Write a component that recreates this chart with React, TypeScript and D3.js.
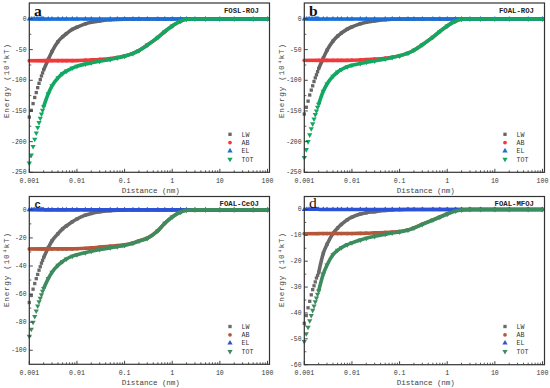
import React from 'react';
import * as d3 from 'd3';

// ---------- data ----------
const DISTANCE = [0.001, 0.0011, 0.0012, 0.0013, 0.0014, 0.0015, 0.0016, 0.0017, 0.0018, 0.0019, 0.002,
  0.0025, 0.003, 0.004, 0.005, 0.006, 0.008, 0.01, 0.015, 0.02, 0.03, 0.05, 0.07,
  0.1, 0.15, 0.2, 0.3, 0.5, 0.7, 1, 1.5, 2, 3, 5, 10, 20, 50, 100];

const LW_A = [-160, -149, -138, -128, -120, -112, -105, -99, -93, -88, -83,
  -66, -53, -37, -29, -24, -17, -13.5, -8, -5.5, -3.2, -1.4, -0.7,
  -0.3, -0.1, -0.05, 0, 0, 0, 0, 0, 0, 0, 0, 0, 0, 0, 0];
const AB_A = [-68, -68, -68, -68, -68, -68, -68, -68, -68, -68, -68,
  -68, -68, -68, -68, -68, -68, -67.8, -67.3, -66.8, -66, -64.5, -62.8,
  -60.3, -56, -51.5, -42.5, -30, -20.5, -11.5, -3.5, -0.6, 0, 0, 0, 0, 0, 0];
const EL_A = [0, 0, 0, 0, 0, 0, 0, 0, 0, 0, 0, 0, 0, 0, 0, 0, 0, 0, 0, 0, 0, 0, 0,
  0, 0, 0, 0, 0, 0, 0, 0, 0, 0, 0, 0, 0, 0, 0];
const TOT_A = [-235, -222, -208, -196, -186, -177, -169, -162, -155, -149, -143,
  -122, -109, -96, -89, -85, -80, -77, -73.5, -71.5, -69, -66, -63.5,
  -60.8, -56.2, -51.6, -42.6, -30, -20.5, -11.5, -3.5, -0.6, 0, 0, 0, 0, 0, 0];

const LW_B = [-155, -144, -134, -124, -116, -109, -102, -96, -91, -86, -81,
  -64, -51, -36, -28, -23, -16.5, -13, -7.8, -5.3, -3.1, -1.3, -0.6,
  -0.3, -0.1, -0.05, 0, 0, 0, 0, 0, 0, 0, 0, 0, 0, 0, 0];
const AB_B = [-67.5, -67.5, -67.5, -67.5, -67.5, -67.5, -67.5, -67.5, -67.5, -67.5, -67.5,
  -67.5, -67.5, -67.5, -67.5, -67.5, -67.5, -67.3, -66.8, -66.3, -65.5, -64, -62.3,
  -59.8, -55.6, -51, -42, -29.6, -20.2, -11.3, -3.4, -0.6, 0, 0, 0, 0, 0, 0];
const EL_B = [0, 0, 0, 0, 0, 0, 0, 0, 0, 0, 0, 0, 0, 0, 0, 0, 0, 0, 0, 0, 0, 0, 0,
  0, 0, 0, 0, 0, 0, 0, 0, 0, 0, 0, 0, 0, 0, 0];
const TOT_B = [-226, -213, -200, -189, -179, -171, -163, -156, -150, -144, -139,
  -118, -106, -93.5, -86.5, -82.5, -78, -75.5, -72.5, -70.5, -68.3, -65.3, -62.9,
  -60.2, -55.8, -51.1, -42.1, -29.7, -20.3, -11.4, -3.4, -0.6, 0, 0, 0, 0, 0, 0];

const LW_C = [-66, -61, -56.5, -52.5, -49, -46, -43, -40.5, -38, -36, -34,
  -27, -22, -17, -13.5, -11.5, -8.5, -6.5, -3.8, -2.6, -1.4, -0.6, -0.3,
  -0.15, 0, 0, 0, 0, 0, 0, 0, 0, 0, 0, 0, 0, 0, 0];
const AB_C = [-27.8, -27.8, -27.8, -27.8, -27.8, -27.8, -27.8, -27.8, -27.8, -27.8, -27.8,
  -27.8, -27.8, -27.8, -27.8, -27.8, -27.8, -27.7, -27.4, -27.1, -26.5, -25.9, -25.5,
  -24.9, -23.6, -22.1, -20.1, -14.8, -9.5, -5, -1.5, -0.3, 0, 0, 0, 0, 0, 0];
const EL_C = [0, 0, 0, 0, 0, 0, 0, 0, 0, 0, 0, 0, 0, 0, 0, 0, 0, 0, 0, 0, 0, 0, 0,
  0, 0, 0, 0, 0, 0, 0, 0, 0, 0, 0, 0, 0, 0, 0];
const TOT_C = [-90, -85, -80, -76, -72, -68.5, -65.5, -63, -60.5, -58, -56,
  -49, -44.5, -39.5, -36.8, -35, -33, -32, -30.5, -29.5, -28.3, -27, -26.2,
  -25.3, -23.8, -22.3, -20.3, -14.9, -9.6, -5.1, -1.6, -0.35, 0, 0, 0, 0, 0, 0];

const LW_D = [-44, -41, -38, -35.5, -33, -31, -29.5, -28, -26.5, -25.5, -24.5,
  -17, -13.5, -9.3, -7.2, -5.8, -4, -3, -1.8, -1.3, -0.9, -0.4, -0.2,
  -0.1, 0, 0, 0, 0, 0, 0, 0, 0, 0, 0, 0, 0, 0, 0];
const AB_D = [-9.3, -9.3, -9.3, -9.3, -9.3, -9.3, -9.3, -9.3, -9.3, -9.3, -9.3,
  -9.3, -9.3, -9.3, -9.3, -9.3, -9.3, -9.3, -9.25, -9.2, -9.05, -8.9, -8.75,
  -8.5, -7.9, -7.1, -5.7, -4, -2.9, -1.7, -0.55, -0.15, 0, 0, 0, 0, 0, 0];
const EL_D = [0, 0, 0, 0, 0, 0, 0, 0, 0, 0, 0, 0, 0, 0, 0, 0, 0, 0, 0, 0, 0, 0, 0,
  0, 0, 0, 0, 0, 0, 0, 0, 0, 0, 0, 0, 0, 0, 0];
const TOT_D = [-51, -48, -45.5, -43, -41, -39, -37.3, -35.7, -34.2, -32.8, -31.5,
  -25, -21.5, -17.5, -15.8, -14.8, -13.6, -12.9, -11.8, -11.1, -10.4, -9.6, -9.1,
  -8.7, -8, -7.2, -5.8, -4.1, -3, -1.8, -0.6, -0.2, 0, 0, 0, 0, 0, 0];

const X_TICKS = [0.001, 0.01, 0.1, 1, 10, 100];
const X_TICK_LABELS = ['0.001', '0.01', '0.1', '1', '10', '100'];
const Y_TICKS_AB = [0, -50, -100, -150, -200, -250];
const Y_TICKS_C = [0, -20, -40, -60, -80, -100];
const Y_TICKS_D = [0, -10, -20, -30, -40, -50, -60];
const SERIES_NAMES = ['LW', 'AB', 'EL', 'TOT'];
const PANEL_LETTERS = ['a', 'b', 'c', 'd'];
const PANEL_TITLES = ['FOSL-ROJ', 'FOAL-ROJ', 'FOAL-CeOJ', 'FOAL-MFOJ'];

// ---------- styles ----------
const COLORS_TOP = ['#656565', '#f0393b', '#1c6fd8', '#12a862'];
const COLORS_BOTTOM = ['#6a6a6a', '#b5573a', '#2c52d6', '#3d8c5e'];
const SYMBOLS = [d3.symbolSquare, d3.symbolCircle, d3.symbolTriangle, d3.symbolTriangle];
const ROTATE = [0, 0, 0, 180];
const SYMBOL_SIZE = [11, 11, 12, 12];
const MONO = '"Liberation Mono", "DejaVu Sans Mono", monospace';

const PANELS = [
  { ox: 0, oy: 0, series: [LW_A, AB_A, EL_A, TOT_A], yDomain: [-250, 26], yTicks: Y_TICKS_AB, top: 3, bottom: 172.3, colors: COLORS_TOP },
  { ox: 275, oy: 0, series: [LW_B, AB_B, EL_B, TOT_B], yDomain: [-250, 26], yTicks: Y_TICKS_AB, top: 3, bottom: 172.3, colors: COLORS_TOP },
  { ox: 0, oy: 194, series: [LW_C, AB_C, EL_C, TOT_C], yDomain: [-110, 9.5], yTicks: Y_TICKS_C, top: 2.5, bottom: 170.3, colors: COLORS_BOTTOM },
  { ox: 275, oy: 194, series: [LW_D, AB_D, EL_D, TOT_D], yDomain: [-60, 5], yTicks: Y_TICKS_D, top: 2.5, bottom: 170.7, colors: COLORS_BOTTOM },
];

function Panel({ cfg, idx }: { cfg: any; idx: number }) {
  const left = 29.3;
  const right = 269.5;
  const x = d3.scaleLog().domain([0.001, 100]).range([left, 267.5]);
  const y = d3.scaleLinear().domain(cfg.yDomain).range([cfg.bottom, cfg.top]);
  const line = d3.line<[number, number]>()
    .defined((d) => d[0] >= 0.002)
    .x((d) => x(d[0]))
    .y((d) => y(d[1]))
    .curve(d3.curveMonotoneX);

  const step = Math.abs(cfg.yTicks[1] - cfg.yTicks[0]);
  const yMinor = cfg.yTicks.slice(0, -1).map((t: number) => t - step / 2);
  const xMinor: number[] = [];
  for (let e = -3; e < 2; e++) for (let k = 2; k <= 9; k++) xMinor.push(k * Math.pow(10, e));

  const axisColor = '#333';
  const isBottom = idx >= 2;
  const tickLabelY = isBottom ? 180.5 : 182.5;
  const xTitleY = isBottom ? 191 : 192.8;

  return (
    <g transform={`translate(${cfg.ox},${cfg.oy})`}>
      {cfg.series.map((vals: number[], si: number) => {
        const pts: [number, number][] = DISTANCE.map((d, i) => [d, vals[i]]);
        const sym = d3.symbol().type(SYMBOLS[si]).size(SYMBOL_SIZE[si])();
        return (
          <g key={si}>
            <path d={line(pts) || ''} fill="none" stroke={cfg.colors[si]} strokeWidth={3.6} />
            {pts.map((p, i) => (
              <path key={i} d={sym || ''} fill={cfg.colors[si]}
                transform={`translate(${x(p[0])},${y(p[1])}) rotate(${ROTATE[si]})`} />
            ))}
          </g>
        );
      })}

      {/* frame */}
      <rect x={left} y={cfg.top} width={right - left} height={cfg.bottom - cfg.top}
        fill="none" stroke={axisColor} strokeWidth={1.2} />

      {/* x ticks */}
      {X_TICKS.map((t, i) => (
        <g key={'xt' + i}>
          <line x1={x(t)} x2={x(t)} y1={cfg.bottom} y2={cfg.bottom - 3.5} stroke={axisColor} strokeWidth={0.9} />
          <text x={x(t)} y={tickLabelY} textAnchor="middle" fontFamily={MONO} fontSize={6.6} fill="#333">{X_TICK_LABELS[i]}</text>
        </g>
      ))}
      {xMinor.map((t, i) => (
        <line key={'xm' + i} x1={x(t)} x2={x(t)} y1={cfg.bottom} y2={cfg.bottom - 2} stroke={axisColor} strokeWidth={0.8} />
      ))}

      {/* y ticks */}
      {cfg.yTicks.map((t: number, i: number) => (
        <g key={'yt' + i}>
          <line x1={left} x2={left + 3.5} y1={y(t)} y2={y(t)} stroke={axisColor} strokeWidth={0.9} />
          <text x={26.5} y={y(t) + 2.0} textAnchor="end" fontFamily={MONO} fontSize={6.4} fill="#333">{String(t)}</text>
        </g>
      ))}
      {yMinor.map((t: number, i: number) => (
        <line key={'ym' + i} x1={left} x2={left + 2} y1={y(t)} y2={y(t)} stroke={axisColor} strokeWidth={0.8} />
      ))}

      {/* axis titles */}
      <text x={150.8} y={xTitleY} textAnchor="middle" fontFamily={MONO} fontSize={7.6} fill="#444"
        textLength={58} lengthAdjust="spacing">Distance (nm)</text>
      <text transform={`translate(8.6,${isBottom ? 76 : 81}) rotate(-90)`} textAnchor="middle"
        fontFamily={MONO} fontSize={7.6} fill="#444" textLength={74} lengthAdjust="spacing">Energy (10⁴kT)</text>

      {/* panel letter and title */}
      {idx === 2 ? (
        <text x={34.5} y={13.8} fontFamily='"Liberation Sans", Arial, sans-serif' fontWeight="bold" fontSize={11} fill="#222">{PANEL_LETTERS[idx]}</text>
      ) : (
        <text x={34} y={idx === 3 ? 14 : 15.8} fontFamily='"Liberation Serif", "Times New Roman", serif' fontWeight={idx === 3 ? 'normal' : 'bold'} fontSize={15.5} fill="#111">{PANEL_LETTERS[idx]}</text>
      )}
      <text x={259} y={isBottom ? 11.8 : 12.7} textAnchor="end" fontFamily={MONO} fontWeight="bold" fontSize={7.3} fill="#222">{PANEL_TITLES[idx]}</text>

      {/* legend */}
      {SERIES_NAMES.map((name, si) => {
        const ly = (isBottom ? 132.5 : 134.3) + si * 8.3;
        const sym = d3.symbol().type(SYMBOLS[si]).size(SYMBOL_SIZE[si])();
        return (
          <g key={'lg' + si}>
            <path d={sym || ''} fill={cfg.colors[si]} transform={`translate(230,${ly}) rotate(${ROTATE[si]})`} />
            <text x={241.5} y={ly + 2.3} fontFamily={MONO} fontSize={6.6} fill="#333">{name}</text>
          </g>
        );
      })}
    </g>
  );
}

export default function App() {
  return (
    <div style={{ position: 'fixed', left: 0, top: 0, width: 550, height: 388, background: '#fff' }}>
      <svg width={550} height={388} viewBox="0 0 550 388">
        <rect x={0} y={0} width={550} height={388} fill="#fff" />
        {PANELS.map((cfg, i) => (
          <Panel key={i} cfg={cfg} idx={i} />
        ))}
      </svg>
    </div>
  );
}
